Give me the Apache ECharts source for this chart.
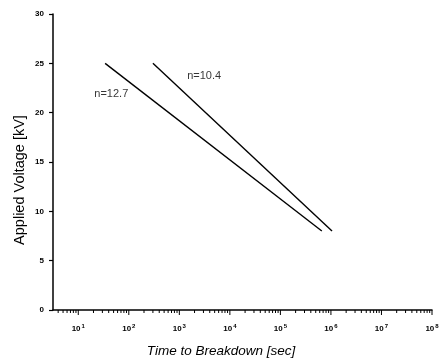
<!DOCTYPE html>
<html>
<head>
<meta charset="utf-8">
<script src="https://cdn.jsdelivr.net/npm/echarts@6/dist/echarts.min.js"></script>
<style>
html,body{margin:0;padding:0;background:#fff;}
#chart{width:448px;height:362px;}
</style>
</head>
<body>
<div id="chart"></div>
<script>
// Data (time in seconds, voltage in kV)
const xDecades = [1, 2, 3, 4, 5, 6, 7, 8];          // tick label exponents 10^k
const yTicks = [0, 5, 10, 15, 20, 25, 30];
const lineN127Time = [34, 660000];
const lineN127Volt = [25, 8];
const lineN104Time = [300, 1050000];
const lineN104Volt = [25, 8];
const seriesLabels = ['n=12.7', 'n=10.4'];
const labelTime = [45, 3100];   // where the annotation text sits
const labelVolt = [21.9, 23.7];

const toPts = (t, v) => t.map((x, i) => [Math.log10(x), v[i]]);

// log minor tick positions (axis decoration)
const minorTicks = [];
for (let k = 0; k <= 7; k++) {
  for (let m = 1; m <= 9; m++) {
    const p = k + Math.log10(m);
    if (p >= 0.5 && p <= 8.0001) minorTicks.push([p, m === 1 ? 1 : 0]);
  }
}
minorTicks.push([8, 1]);

const chart = echarts.init(document.getElementById('chart'), null, {renderer: 'canvas'});
chart.setOption({
  animation: false,
  backgroundColor: '#fff',
  grid: {left: 53, right: 16, top: 14, bottom: 52},
  xAxis: {
    type: 'value', min: 0.5, max: 8, interval: 0.5,
    axisLine: {lineStyle: {color: '#000', width: 1.5}},
    axisTick: {show: false},
    splitLine: {show: false},
    axisLabel: {
      margin: 13,
      formatter: v => (Math.abs(v - Math.round(v)) < 1e-6 && xDecades.includes(Math.round(v))) ? '{b|10}{s|' + Math.round(v) + '}' : '',
      rich: {
        b: {fontFamily: 'Arial, Liberation Sans', fontSize: 8, fontWeight: 'bold', color: '#000'},
        s: {fontFamily: 'Arial, Liberation Sans', fontSize: 6, fontWeight: 'bold', color: '#000', verticalAlign: 'top', padding: [0,0,6,1]}
      }
    }
  },
  yAxis: {
    type: 'value', min: 0, max: 30, interval: 5,
    axisLine: {show: true, lineStyle: {color: '#000', width: 1.5}},
    axisTick: {show: true, length: 4, lineStyle: {color: '#000', width: 1.2}},
    splitLine: {show: false},
    axisLabel: {margin: 9, fontFamily: 'Arial, Liberation Sans', fontSize: 8, fontWeight: 'bold', color: '#000'}
  },
  series: [
    {
      type: 'custom', silent: true, clip: false, z: 1,
      data: minorTicks,
      renderItem: (params, api) => {
        const p = api.coord([api.value(0), 0]);
        const len = api.value(1) ? 5 : 3;
        return {type: 'line', shape: {x1: p[0], y1: p[1], x2: p[0], y2: p[1] + len},
                style: {stroke: '#000', lineWidth: 1}};
      }
    },
    {type: 'line', data: toPts(lineN127Time, lineN127Volt), symbol: 'none',
     lineStyle: {color: '#000', width: 1.4}},
    {type: 'line', data: toPts(lineN104Time, lineN104Volt), symbol: 'none',
     lineStyle: {color: '#000', width: 1.4}},
    {type: 'scatter', symbolSize: 0, silent: true,
     data: seriesLabels.map((s, i) => ({value: [Math.log10(labelTime[i]), labelVolt[i]], name: s})),
     label: {show: true, position: 'inside', formatter: p => p.name,
             fontFamily: 'Arial, Liberation Sans', fontSize: 11, color: '#000'}}
  ],
  graphic: [
    {type: 'text', x: 20, y: 180, rotation: Math.PI / 2,
     style: {text: 'Applied Voltage [kV]', font: '14.5px Arial, "Liberation Sans"', fill: '#000',
             textAlign: 'center', textVerticalAlign: 'middle'}},
    {type: 'text', x: 221, y: 351,
     style: {text: 'Time to Breakdown [sec]', font: 'italic 13.5px Arial, "Liberation Sans"', fill: '#000',
             textAlign: 'center', textVerticalAlign: 'middle'}}
  ]
});
</script>
</body>
</html>
